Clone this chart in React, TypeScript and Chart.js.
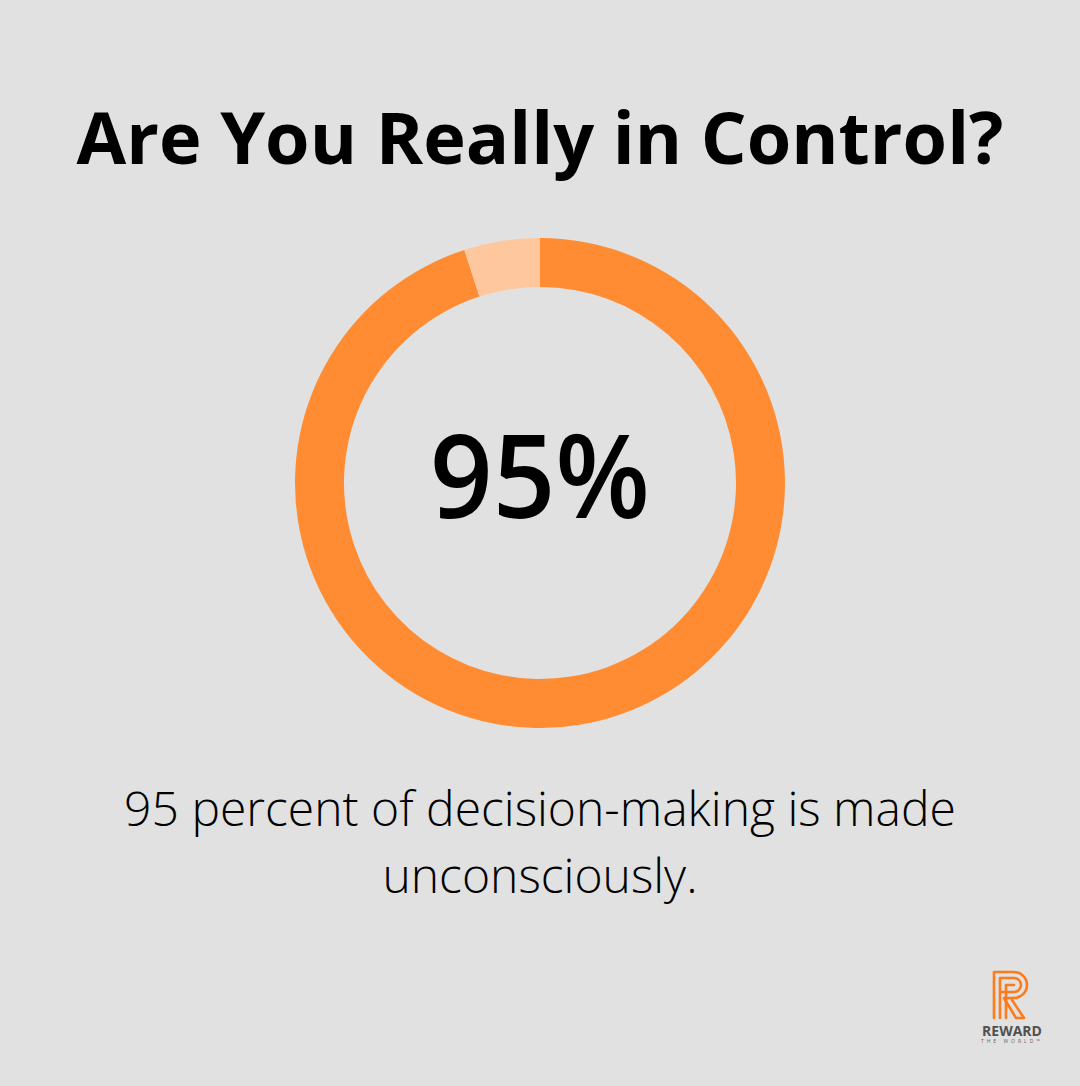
import React, { useEffect, useRef } from "react";
import { Chart, registerables } from "chart.js";

Chart.register(...registerables);

const title = "Are You Really in Control?";
const categories = ["Unconscious", "Conscious"];
const values = [95, 5];
const colors = ["#FF8C33", "#FFC79D"];
const centerLabel = "95%";
const captionLines = ["95 percent of decision-making is made", "unconsciously."];

export default function App() {
  const ref = useRef<HTMLCanvasElement | null>(null);

  useEffect(() => {
    if (!ref.current) return;
    const centerText = {
      id: "centerText",
      afterDraw(chart: any) {
        const { ctx, chartArea } = chart;
        const cx = (chartArea.left + chartArea.right) / 2;
        const cy = (chartArea.top + chartArea.bottom) / 2;
        ctx.save();
        ctx.fillStyle = "#000";
        ctx.font = "600 116px 'Open Sans'";
        ctx.textAlign = "center";
        ctx.textBaseline = "alphabetic";
        ctx.translate(cx, cy + 35);
        ctx.scale(0.945, 1);
        ctx.fillText(centerLabel, 0, 0);
        ctx.restore();
      },
    };
    const chart = new Chart(ref.current, {
      type: "doughnut",
      data: {
        labels: categories,
        datasets: [
          {
            data: values,
            backgroundColor: colors,
            borderWidth: 0,
          },
        ],
      },
      options: {
        animation: false,
        responsive: false,
        maintainAspectRatio: false,
        cutout: "80%",
        layout: { padding: 0 },
        plugins: {
          legend: { display: false },
          tooltip: { enabled: false },
        },
      },
      plugins: [centerText],
    });
    return () => chart.destroy();
  }, []);

  return (
    <div
      style={{
        position: "fixed",
        left: 0,
        top: 0,
        width: 1080,
        height: 1086,
        background: "#E0E1E0",
        fontFamily: "'Open Sans', sans-serif",
        overflow: "hidden",
      }}
    >
      <div
        style={{
          position: "absolute",
          left: 0,
          width: 1080,
          top: 86,
          textAlign: "center",
          fontWeight: 700,
          fontSize: 72,
          lineHeight: "100px",
          color: "#000",
        }}
      >
        {title}
      </div>
      <canvas
        ref={ref}
        width={490}
        height={490}
        style={{ position: "absolute", left: 295, top: 238, width: 490, height: 490 }}
      />
      <div
        style={{
          position: "absolute",
          left: 0,
          width: 1080,
          top: 774,
          textAlign: "center",
          fontWeight: 300,
          fontSize: 48,
          lineHeight: "67px",
          color: "#000",
        }}
      >
        {captionLines.map((l, i) => (
          <div key={i}>{l}</div>
        ))}
      </div>
      <div style={{ position: "absolute", left: 966, top: 968, width: 92, textAlign: "center" }}>
        <svg width="44" height="52" viewBox="0 0 44 52" style={{ display: "block", margin: "0 auto" }}>
          <g fill="none" stroke="#FF7A1A" strokeWidth="2.6" strokeLinejoin="round" strokeLinecap="round">
            <path d="M4 50 V4 H24 A13 13 0 0 1 24 30 H14 L26 50 H34 L22 32" />
            <path d="M10 50 V10 H24 A7 7 0 0 1 24 24 H10" />
            <path d="M16 50 V17 H24" />
          </g>
        </svg>
        <div style={{ fontFamily: "'Open Sans'", fontWeight: 700, fontSize: 14, color: "#505050", lineHeight: "15px", marginTop: 3 }}>
          REWARD
        </div>
        <div style={{ fontFamily: "'Open Sans'", fontSize: 5, letterSpacing: 3, color: "#666", lineHeight: "7px" }}>
          THE WORLD™
        </div>
      </div>
    </div>
  );
}
